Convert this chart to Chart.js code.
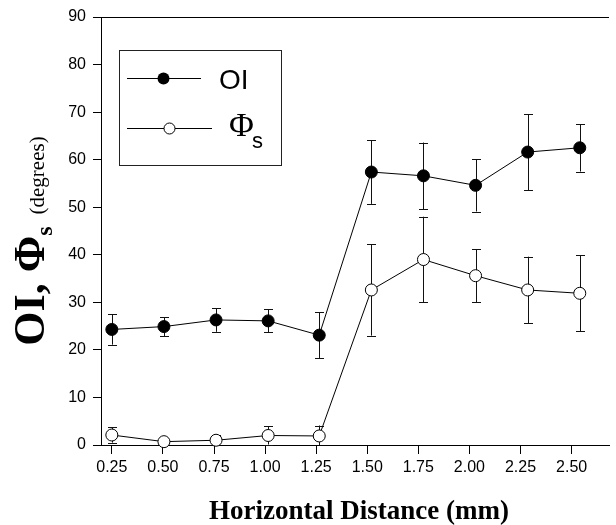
<!DOCTYPE html>
<html>
<head>
<meta charset="utf-8">
<script src="https://cdn.jsdelivr.net/npm/chart.js@4.4.0/dist/chart.umd.min.js"></script>
<style>
  html, body { margin: 0; padding: 0; background: #fff; overflow: hidden; }
  #wrap { width: 616px; height: 525px; }
</style>
</head>
<body>
<div id="wrap"><canvas id="chart" width="616" height="525"></canvas></div>
<script>
// horizontal distance of each sample (mm)
const distance = [0.25, 0.505, 0.76, 1.015, 1.265, 1.52, 1.775, 2.03, 2.285, 2.54]
// OI, mean and error (degrees)
const oiMean = [24.3, 24.9, 26.3, 26.1, 23.1, 57.4, 56.6, 54.6, 61.6, 62.5]
const oiErr = [3.2, 2.0, 2.5, 2.4, 4.8, 6.7, 7.0, 5.5, 8.0, 5.0]
// Phi_s, mean and error (degrees)
const phiMean = [2.1, 0.7, 1.0, 2.0, 1.9, 32.6, 39.0, 35.6, 32.6, 31.9]
const phiErr = [1.6, 0.4, 1.2, 1.9, 2.2, 9.6, 9.0, 5.6, 7.0, 8.0]

const xTicks = [0.25, 0.5, 0.75, 1.0, 1.25, 1.5, 1.75, 2.0, 2.25, 2.5]
const yTicks = [0, 10, 20, 30, 40, 50, 60, 70, 80, 90]

const serif = '"Liberation Serif", "Times New Roman", serif'
const sans = '"Liberation Sans", Arial, sans-serif'

Chart.defaults.font.family = sans

function toPoints (xs, ys) {
  return xs.map((x, i) => ({ x: x, y: ys[i] }))
}

// vertical error bars with caps, drawn under the markers
const errorBars = {
  id: 'errorBars',
  beforeDatasetsDraw (chart) {
    const ctx = chart.ctx
    const xs = chart.scales.x
    const ys = chart.scales.y
    ctx.save()
    ctx.strokeStyle = '#111'
    ctx.lineWidth = 1
    chart.data.datasets.forEach(ds => {
      ds.data.forEach((p, i) => {
        const err = ds.errors[i]
        const px = Math.round(xs.getPixelForValue(p.x)) + 0.5
        const top = ys.getPixelForValue(p.y + err)
        const bot = ys.getPixelForValue(Math.max(p.y - err, 0))
        ctx.beginPath()
        ctx.moveTo(px, top)
        ctx.lineTo(px, bot)
        ctx.moveTo(px - 4.5, Math.round(top) + 0.5)
        ctx.lineTo(px + 4.5, Math.round(top) + 0.5)
        if (p.y - err > 0) {
          ctx.moveTo(px - 4.5, Math.round(bot) + 0.5)
          ctx.lineTo(px + 4.5, Math.round(bot) + 0.5)
        }
        ctx.stroke()
      })
    })
    ctx.restore()
  }
}

// boxed legend and the mixed-font axis titles
const decorations = {
  id: 'decorations',
  afterDraw (chart) {
    const ctx = chart.ctx
    ctx.save()

    // legend box
    ctx.strokeStyle = '#222'
    ctx.lineWidth = 1
    ctx.strokeRect(119.5, 50.5, 162, 115)

    ctx.strokeStyle = '#000'
    ctx.beginPath()
    ctx.moveTo(127, 78.5)
    ctx.lineTo(201, 78.5)
    ctx.moveTo(127, 128.5)
    ctx.lineTo(212, 128.5)
    ctx.stroke()

    ctx.fillStyle = '#000'
    ctx.beginPath()
    ctx.arc(163.5, 78.5, 6, 0, Math.PI * 2)
    ctx.fill()

    ctx.fillStyle = '#fff'
    ctx.beginPath()
    ctx.arc(169.5, 128.5, 5.5, 0, Math.PI * 2)
    ctx.fill()
    ctx.stroke()

    ctx.fillStyle = '#000'
    ctx.textBaseline = 'alphabetic'
    ctx.textAlign = 'left'
    ctx.font = '28px ' + sans
    ctx.fillText('OI', 219, 89)
    ctx.font = '34px ' + serif
    ctx.fillText('\u03A6', 229, 136)
    ctx.font = '22px ' + sans
    ctx.fillText('s', 252, 148)

    // x title
    ctx.font = 'bold 27px ' + serif
    ctx.textAlign = 'center'
    ctx.fillText('Horizontal Distance (mm)', 359, 519)

    // y title, rotated
    const parts = [
      { text: 'OI, \u03A6', font: 'bold 44px ' + serif, dy: 0, gap: 0 },
      { text: 's', font: 'bold 24px ' + serif, dy: 8, gap: 12 },
      { text: '(degrees)', font: '21px ' + serif, dy: 0, gap: 0 }
    ]
    ctx.textAlign = 'left'
    let total = 0
    parts.forEach(p => { ctx.font = p.font; p.w = ctx.measureText(p.text).width; total += p.w + p.gap })
    ctx.translate(44, 241)
    ctx.rotate(-Math.PI / 2)
    let cx = -total / 2
    parts.forEach(p => {
      ctx.font = p.font
      ctx.fillText(p.text, cx, p.dy)
      cx += p.w + p.gap
    })
    ctx.restore()
  }
}

const chart = new Chart(document.getElementById('chart').getContext('2d'), {
  type: 'line',
  data: {
    datasets: [
      {
        label: 'OI',
        data: toPoints(distance, oiMean),
        errors: oiErr,
        borderColor: '#000',
        borderWidth: 1,
        pointRadius: 6,
        pointBackgroundColor: '#000',
        pointBorderColor: '#000',
        pointBorderWidth: 1,
        tension: 0,
        clip: false
      },
      {
        label: '\u03A6s',
        data: toPoints(distance, phiMean),
        errors: phiErr,
        borderColor: '#000',
        borderWidth: 1,
        pointRadius: 6,
        pointBackgroundColor: '#fff',
        pointBorderColor: '#000',
        pointBorderWidth: 1,
        tension: 0,
        clip: false
      }
    ]
  },
  options: {
    responsive: false,
    animation: false,
    devicePixelRatio: 1,
    layout: { padding: { top: 17, right: 0, bottom: 0, left: 0 } },
    plugins: {
      legend: { display: false },
      tooltip: { enabled: false }
    },
    scales: {
      x: {
        type: 'linear',
        min: 0.197,
        max: 2.683,
        afterBuildTicks: s => { s.ticks = xTicks.map(v => ({ value: v })) },
        afterFit: s => { s.height = 80 },
        ticks: {
          callback: v => v.toFixed(2),
          font: { size: 16 },
          color: '#000',
          padding: 4,
          maxRotation: 0,
          autoSkip: false
        },
        grid: { drawOnChartArea: false, tickLength: 9, tickColor: '#000', lineWidth: 1 },
        border: { color: '#000', width: 1 }
      },
      y: {
        min: 0,
        max: 90,
        afterBuildTicks: s => { s.ticks = yTicks.map(v => ({ value: v })) },
        afterFit: s => { s.width = 101 },
        ticks: {
          font: { size: 16 },
          color: '#000',
          padding: 7
        },
        grid: {
          color: c => (c.tick && c.tick.value === 90) ? '#000' : 'rgba(0,0,0,0)',
          tickColor: '#000',
          tickLength: 8,
          lineWidth: 1
        },
        border: { color: '#000', width: 1 }
      }
    }
  },
  plugins: [errorBars, decorations]
})
</script>
</body>
</html>
